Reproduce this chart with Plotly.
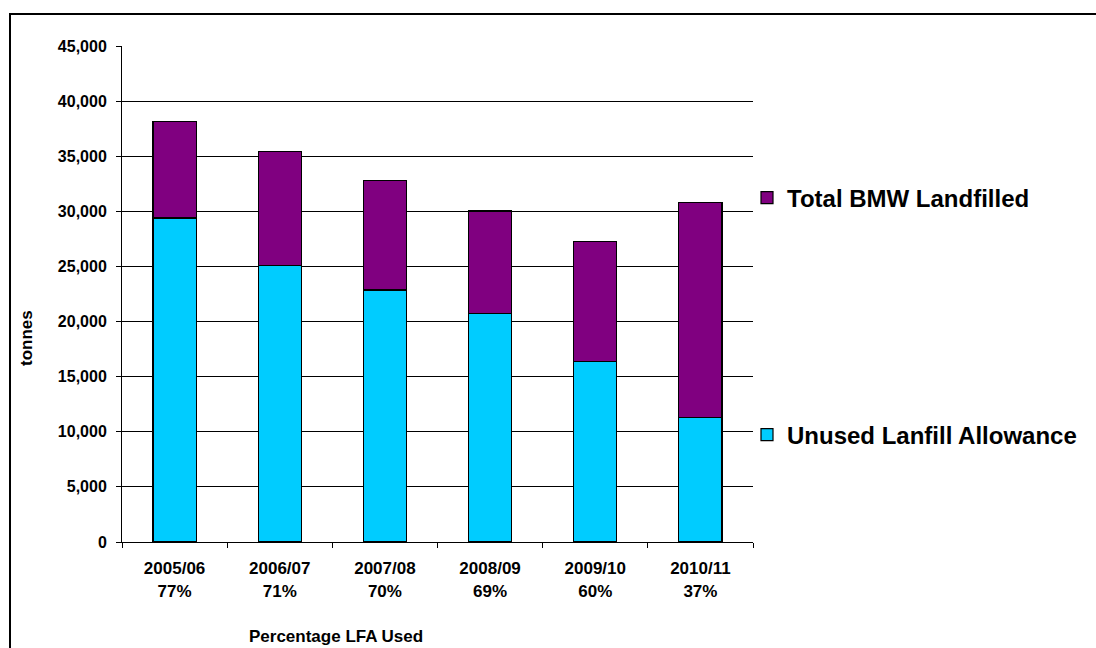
import plotly.graph_objects as go

years = ["2005/06", "2006/07", "2007/08", "2008/09", "2009/10", "2010/11"]
pct_used = ["77%", "71%", "70%", "69%", "60%", "37%"]
unused_allowance = [29400, 25070, 22860, 20710, 16360, 11280]
total_landfilled = [8750, 10340, 9950, 9320, 10890, 19510]
y_ticks = [0, 5000, 10000, 15000, 20000, 25000, 30000, 35000, 40000, 45000]

W, H = 1096, 648
L, R, T, B = 122, 343, 46, 106
pw, ph = W - L - R, H - T - B

def px_x(p):
    return (p - L) / pw

def px_y(p):
    return (H - B - p) / ph

bold = dict(family="Arial, Liberation Sans, sans-serif", color="black", weight="bold")

fig = go.Figure()
fig.add_trace(go.Bar(
    x=years, y=unused_allowance, name="Unused Lanfill Allowance",
    marker=dict(color="#00CCFF", line=dict(color="black", width=1.2)),
    legend="legend2", showlegend=True,
))
fig.add_trace(go.Bar(
    x=years, y=total_landfilled, name="Total BMW Landfilled",
    marker=dict(color="#800080", line=dict(color="black", width=1.2)),
    legend="legend", showlegend=True,
))

ticktext = [f"{y}<br>{p}" for y, p in zip(years, pct_used)]

fig.update_layout(
    width=W, height=H,
    margin=dict(l=L, r=R, t=T, b=B),
    barmode="stack", bargap=0.59,
    showlegend=True,
    plot_bgcolor="white", paper_bgcolor="white",
    font=dict(family="Arial, Liberation Sans, sans-serif", color="black"),
    xaxis=dict(
        tickmode="array", tickvals=years, ticktext=ticktext,
        tickson="boundaries", ticks="outside", ticklen=5, tickcolor="black",
        showline=True, linecolor="black", linewidth=1,
        showgrid=False,
        tickfont=dict(size=17, **bold),
        ticklabelstandoff=11,
    ),
    yaxis=dict(
        range=[0, 45000], tickvals=y_ticks, tickformat=",d",
        ticks="outside", ticklen=5, tickcolor="black",
        showline=True, linecolor="black", linewidth=1,
        showgrid=True, gridcolor="black", gridwidth=1,
        zeroline=False,
        tickfont=dict(size=16, **bold),
        ticklabelstandoff=6,
    ),
    legend=dict(
        x=px_x(747), y=px_y(198), xanchor="left", yanchor="middle",
        font=dict(size=24, **bold), bgcolor="rgba(0,0,0,0)",
    ),
    legend2=dict(
        x=px_x(747), y=px_y(435), xanchor="left", yanchor="middle",
        font=dict(size=24, **bold), bgcolor="rgba(0,0,0,0)",
    ),
    annotations=[
        dict(
            text="Percentage LFA Used", xref="paper", yref="paper",
            x=px_x(336), y=px_y(636), xanchor="center", yanchor="middle",
            showarrow=False, font=dict(size=17, **bold),
        ),
        dict(
            text="tonnes", xref="paper", yref="paper",
            x=px_x(27), y=px_y(338), xanchor="center", yanchor="middle",
            textangle=-90, showarrow=False, font=dict(size=17, **bold),
        ),
    ],
    shapes=[dict(
        type="rect", xref="paper", yref="paper",
        x0=px_x(10), x1=px_x(1110), y0=px_y(670), y1=px_y(14),
        line=dict(color="black", width=2), fillcolor="rgba(0,0,0,0)",
        layer="above",
    )],
)

fig.write_html("out.html")
